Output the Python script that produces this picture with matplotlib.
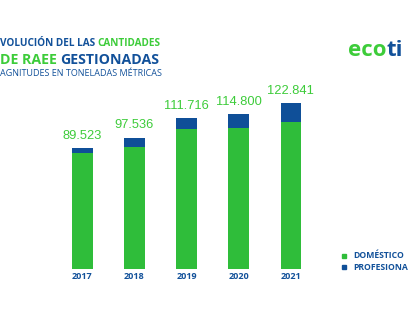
import matplotlib
matplotlib.use("Agg")
import matplotlib.pyplot as plt
from matplotlib.patches import Rectangle

# data (thousand tonnes)
years = ["2017", "2018", "2019", "2020", "2021"]
totals = [89.523, 97.536, 111.716, 114.800, 122.841]
domestico = [85.8, 90.7, 103.9, 104.8, 109.3]
profesional = [t - d for t, d in zip(totals, domestico)]
total_labels = ["89.523", "97.536", "111.716", "114.800", "122.841"]

GREEN = "#2fbd3a"
BLUE = "#0f4f98"
LABEL_GREEN = "#3dcc3a"
TITLE_BLUE = "#12519a"

W, H = 409, 320
fig = plt.figure(figsize=(W / 100, H / 100), dpi=100)

# axes placed in pixel coordinates
left, right, bottom_px, top_px = 56.3, 316.8, 269, 93.8
ax = fig.add_axes([left / W, (H - bottom_px) / H, (right - left) / W,
                   (bottom_px - top_px) / H])
x = range(len(years))
ax.bar(x, domestico, width=0.39, color=GREEN)
ax.bar(x, profesional, width=0.39, bottom=domestico, color=BLUE)
for i, t in enumerate(totals):
    ax.text(i, t + 5, total_labels[i], ha="center", va="bottom",
            color=LABEL_GREEN, fontsize=9.3, family="Liberation Sans")
ax.set_xlim(-0.5, 4.5)
ax.set_ylim(0, 130)
ax.set_xticks(list(x))
ax.set_xticklabels(years, color=TITLE_BLUE, fontsize=6.5,
                   fontweight="bold", family="Open Sans")
ax.tick_params(axis="x", length=0, pad=2)
ax.set_yticks([])
for s in ax.spines.values():
    s.set_visible(False)

# title block (cut at the left edge in the original)
def px(xp, yp):
    return xp / W, 1 - yp / H

t1 = fig.text(*px(0, 44), "VOLUCIÓN DEL LAS ", color=TITLE_BLUE, fontsize=7.2,
              fontweight="bold", family="Open Sans", va="center")
fig.canvas.draw()
bb = t1.get_window_extent()
fig.text(bb.x1 / W, 1 - 44 / H, "CANTIDADES", color=LABEL_GREEN, fontsize=7.2,
         fontweight="bold", family="Open Sans", va="center")

t2 = fig.text(*px(0, 60), "DE RAEE ", color=LABEL_GREEN, fontsize=10.2,
              fontweight="bold", family="Open Sans", va="center")
fig.canvas.draw()
bb = t2.get_window_extent()
fig.text(bb.x1 / W, 1 - 60 / H, "GESTIONADAS", color=TITLE_BLUE, fontsize=10.2,
         fontweight="bold", family="Open Sans", va="center")

fig.text(*px(0, 74), "AGNITUDES EN TONELADAS MÉTRICAS", color=TITLE_BLUE,
         fontsize=6.45, family="Open Sans", va="center")

# logo
lg = fig.text(*px(348, 51), "eco", color=LABEL_GREEN, fontsize=16,
              fontweight="bold", family="Open Sans", va="center")
fig.canvas.draw()
bb = lg.get_window_extent()
fig.text(bb.x1 / W, 1 - 51 / H, "ti", color=TITLE_BLUE, fontsize=16,
         fontweight="bold", family="Open Sans", va="center")

# legend
for yp, col, name in [(256, GREEN, "DOMÉSTICO"), (267, BLUE, "PROFESIONA")]:
    fig.patches.append(Rectangle(((341.7) / W, 1 - (yp + 2.2) / H), 4.3 / W, 4.4 / H,
                                 transform=fig.transFigure, color=col))
    fig.text(353 / W, 1 - yp / H, name, color=TITLE_BLUE, fontsize=6.2,
             fontweight="bold", family="Open Sans", va="center")

fig.savefig("out.png", dpi=100)
